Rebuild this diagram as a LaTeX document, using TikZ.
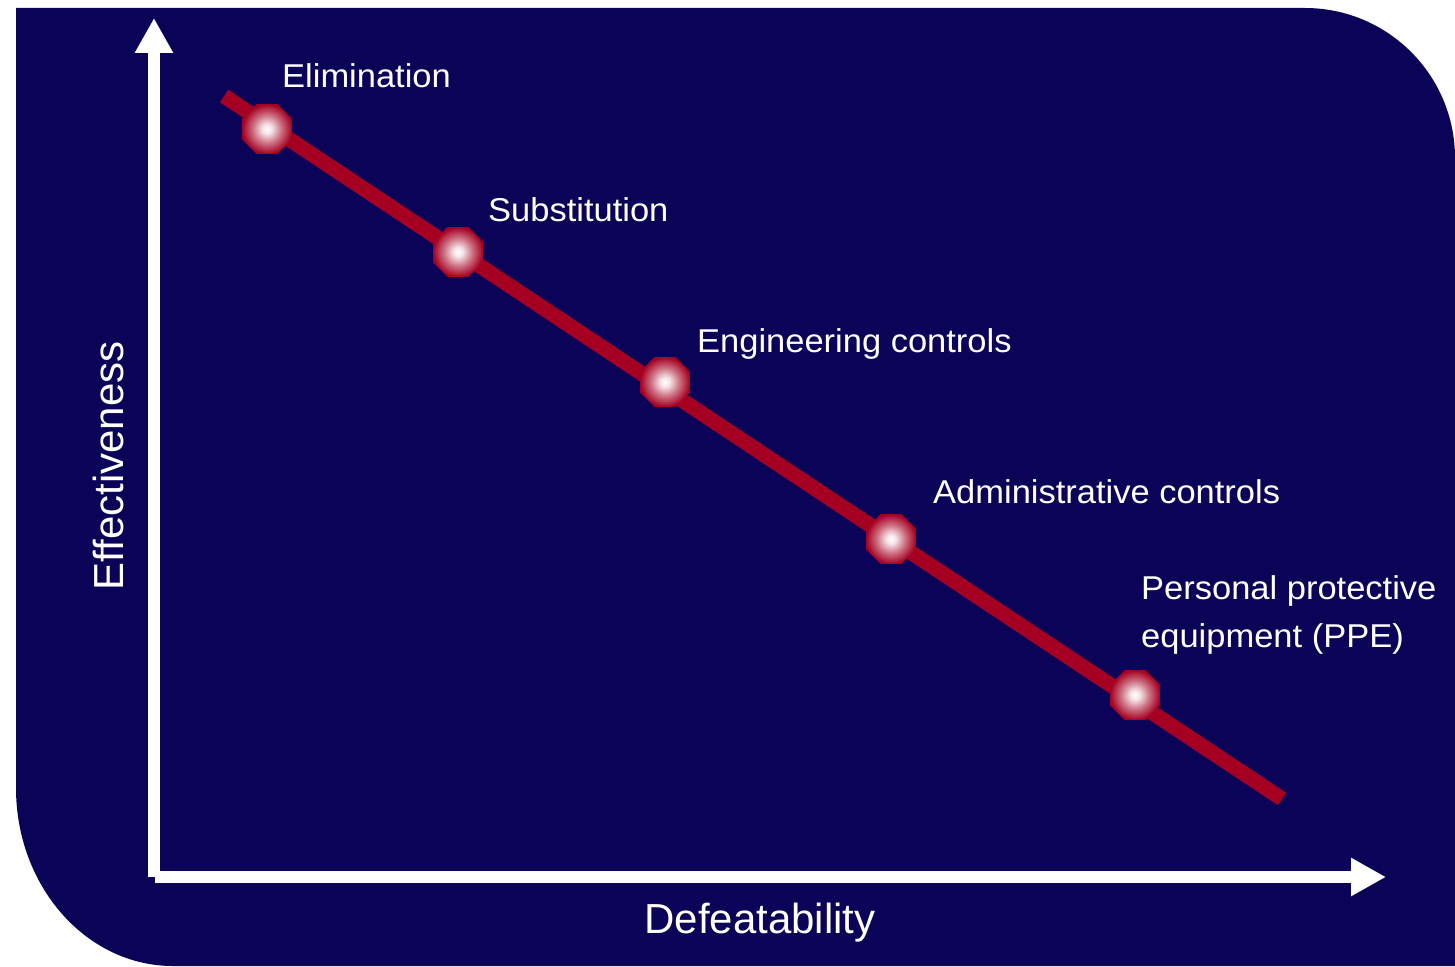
\documentclass[tikz,border=0pt]{standalone}
\usepackage{fontspec}
\setmainfont{Liberation Sans}
\newfontfamily\lblfont[FakeStretch=1.045]{Liberation Sans}
\usetikzlibrary{arrows.meta,shapes.geometric}
\definecolor{navy}{RGB}{11,3,88}
\definecolor{mred}{RGB}{165,0,33}
\pgfdeclareradialshading{glow}{\pgfpoint{0bp}{0bp}}{color(0bp)=(white); color(5bp)=(white!88!mred); color(14bp)=(white!45!mred); color(25bp)=(mred); color(50bp)=(mred)}
\tikzset{
  axis/.style={white, line width=12pt, line cap=butt, -{Triangle[length=35pt,width=36pt]}},
  redline/.style={mred, line width=15pt, line cap=butt},
  marker/.style={regular polygon, regular polygon sides=8, minimum size=54pt, inner sep=0pt, shading=glow, draw=none},
  lbl/.style={text=white, inner sep=0pt, anchor=base west, font=\lblfont\fontsize{33}{40}\selectfont},
  axlbl/.style={text=white, inner sep=0pt, anchor=base, font=\fontsize{42}{48}\selectfont}
}
\begin{document}
\begin{tikzpicture}[x=1pt,y=-1pt]
\useasboundingbox (0,0) rectangle (1455,966);
\fill[navy] (16,8) -- (1305,8) .. controls (1387.8,8) and (1455,75.2) .. (1455,158)
  -- (1455,966) -- (173,966) .. controls (86.3,966) and (16,886.3) .. (16,788) -- cycle;
% axes
\coordinate (yo) at (154,877);
\coordinate (ytip) at (154,18);
\coordinate (xo) at (155,877);
\coordinate (xtip) at (1386,877);
\draw[axis] (yo) -- (ytip);
\draw[axis] (xo) -- (xtip);
% red line
\coordinate (ls) at (224,96);
\coordinate (le) at (1282,799);
\draw[redline] (ls) -- (le);
% markers
\node[marker] (m1) at (267,129) {};
\node[marker] (m2) at (458,252) {};
\node[marker] (m3) at (665,382) {};
\node[marker] (m4) at (891,539) {};
\node[marker] (m5) at (1135,695) {};
% labels
\node[lbl] (l1) at (282,87) {Elimination};
\node[lbl] (l2) at (488,221) {Substitution};
\node[lbl] (l3) at (697,352) {Engineering controls};
\node[lbl] (l4) at (933,503) {Administrative controls};
\node[lbl] (l5a) at (1141,599) {Personal protective};
\node[lbl] (l5b) at (1141,647) {equipment (PPE)};
% axis labels
\node[axlbl, rotate=90] (ylab) at (123,466) {Effectiveness};
\node[axlbl] (xlab) at (760,933) {Defeatability};
\end{tikzpicture}
\end{document}
